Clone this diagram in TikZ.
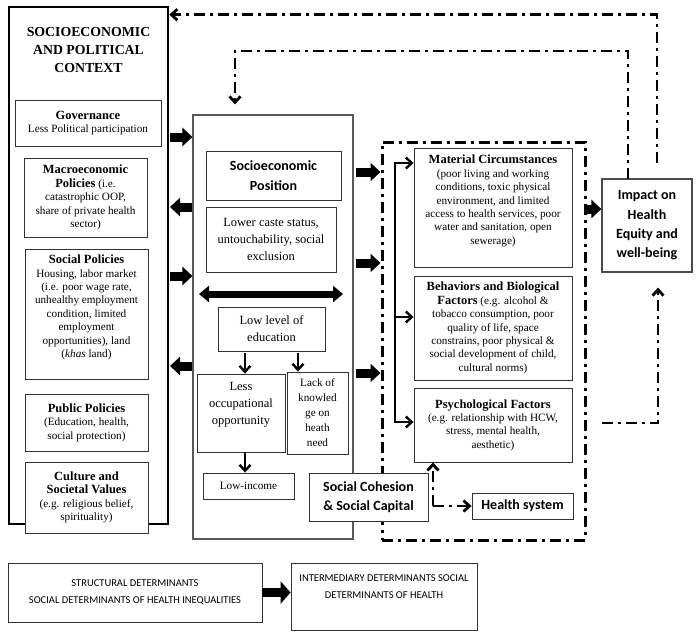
\documentclass[tikz,border=0pt]{standalone}
\usepackage{fontspec}
\setmainfont{Liberation Serif}
\newfontfamily\calfont{Carlito}
\usetikzlibrary{arrows.meta}

\newcommand{\hd}{\fontsize{12.5}{13.4}\selectfont\bfseries}
\newcommand{\bodyfont}{\fontsize{11.2}{13.4}\selectfont}
\newcommand{\bigfont}{\fontsize{12.5}{16.8}\selectfont}
% empty last line, lifts the text a little in tall boxes
\newcommand{\lift}{\\[2pt]\mbox{}}

\tikzset{
  box/.style={draw=black!80, line width=0.9pt, align=center, inner sep=2pt, font=\bodyfont},
  sansbox/.style={box, font=\calfont\bfseries\fontsize{14}{19.3}\selectfont},
  capbox/.style={box, font=\calfont\fontsize{10.5}{17}\selectfont},
  ctxbox/.style={draw, line width=2.6pt, minimum width=159pt, minimum height=517pt},
  sepbox/.style={draw=black!65, line width=1.1pt, minimum width=160pt, minimum height=424pt},
  ddbox/.style={draw, line width=3pt, dash pattern=on 11pt off 5pt on 3pt off 5pt, minimum width=203pt, minimum height=398pt},
  fat/.style={line width=9pt, -{Triangle[length=10pt,width=18pt]}},
  dbl/.style={line width=7pt, {Triangle[length=10pt,width=16pt]}-{Triangle[length=10pt,width=16pt]}},
  dn/.style={line width=2.4pt, -{Straight Barb[length=6pt,width=11pt]}},
  trunk/.style={line width=2.4pt, line join=miter},
  fb/.style={line width=2.8pt, dash pattern=on 11pt off 5pt on 3pt off 5pt, -{Straight Barb[length=6pt,width=11pt]}}
}

\begin{document}
\begin{tikzpicture}[x=1pt, y=-1pt]
\useasboundingbox (0,0) rectangle (698,634);

% structural side
\node[ctxbox] (ctx) at (88.5,265.5) {};
\node[font=\fontsize{13.8}{18}\selectfont\bfseries, align=center] (title) at (88.5,50) {SOCIOECONOMIC\\AND POLITICAL\\CONTEXT};
\node[box, minimum width=146pt, minimum height=46pt] (gov) at (88,123) {{\hd Governance}\\Less Political participation};
\node[box, minimum width=123pt, minimum height=79pt] (macro) at (85.5,197.5) {{\hd Macroeconomic}\\{\hd Policies} (i.e.\\catastrophic OOP,\\share of private health\\sector)};
\node[box, minimum width=123pt, minimum height=130pt] (socpol) at (86.5,314) {{\hd Social Policies}\\Housing, labor market\\(i.e. poor wage rate,\\unhealthy employment\\condition, limited\\employment\\opportunities), land\\(\textit{khas} land)\lift};
\node[box, minimum width=123pt, minimum height=57pt] (pubpol) at (86.5,422.5) {{\hd Public Policies}\\(Education, health,\\social protection)};
\node[box, fill=white, minimum width=123pt, minimum height=71pt] (cult) at (86.5,497.5) {{\hd Culture and}\\{\hd Societal Values}\\(e.g. religious belief,\\spirituality)};

% socioeconomic position
\node[sepbox] (sep) at (273,327) {};
\node[sansbox, minimum width=135pt, minimum height=49pt] (sepos) at (273.5,175.5) {Socioeconomic\\Position};
\node[box, font=\bigfont, minimum width=130pt, minimum height=65pt] (caste) at (271,239.5) {Lower caste status,\\untouchability, social\\exclusion};
\node[box, font=\bigfont, minimum width=107pt, minimum height=44pt] (edu) at (271.5,329) {Low level of\\education};
\node[box, font=\bigfont, minimum width=88pt, minimum height=78pt] (occ) at (241,413) {Less\\occupational\\opportunity\lift};
\node[box, font=\fontsize{11.2}{15}\selectfont, minimum width=61pt, minimum height=82pt] (know) at (317.5,413) {Lack of\\knowled\\ge on\\heath\\need};
\node[box, minimum width=91pt, minimum height=26pt] (inc) at (248.5,486) {Low-income};

% intermediary side
\node[ddbox] (inter) at (483.5,341) {};
\node[sansbox, fill=white, minimum width=119pt, minimum height=48pt] (coh) at (368.5,497) {Social Cohesion\\\& Social Capital};
\node[box, minimum width=158pt, minimum height=119pt] (mat) at (493,207.5) {{\hd Material Circumstances}\\(poor living and working\\conditions, toxic physical\\environment, and limited\\access to health services, poor\\water and sanitation, open\\sewerage)\lift};
\node[box, minimum width=158pt, minimum height=104pt] (beh) at (493,328) {{\hd Behaviors and Biological}\\{\hd Factors} (e.g. alcohol \&\\tobacco consumption, poor\\quality of life, space\\constrains, poor physical \&\\social development of child,\\cultural norms)};
\node[box, minimum width=158pt, minimum height=74pt] (psy) at (493,425) {{\hd Psychological Factors}\\(e.g. relationship with HCW,\\stress, mental health,\\aesthetic)};
\node[sansbox, minimum width=101pt, minimum height=26pt] (hs) at (522.5,506) {Health system};
\node[sansbox, draw=black!70, line width=1.2pt, minimum width=90pt, minimum height=93pt] (imp) at (647,225.5) {Impact on\\Health\\Equity and\\well-being};

% legend
\node[capbox, minimum width=254pt, minimum height=59pt] (struct) at (135,592.5) {STRUCTURAL DETERMINANTS\\SOCIAL DETERMINANTS OF HEALTH INEQUALITIES};
\node[capbox, minimum width=186pt, minimum height=67pt] (interm) at (384,596.5) {INTERMEDIARY DETERMINANTS SOCIAL\\DETERMINANTS OF HEALTH\lift};

% block arrows
\coordinate (a1) at (170,137);
\coordinate (a2) at (170,207);
\coordinate (a3) at (170,276);
\coordinate (a4) at (170,366);
\draw[fat] (a1) -- (a1 -| sep.west);
\draw[fat] (a2 -| sep.west) -- (a2);
\draw[fat] (a3) -- (a3 -| sep.west);
\draw[fat] (a4 -| sep.west) -- (a4);
\coordinate (b1) at (356,172);
\coordinate (b2) at (356,263);
\coordinate (b3) at (356,373);
\draw[fat] (b1) -- (b1 -| inter.west);
\draw[fat] (b2) -- (b2 -| inter.west);
\draw[fat] (b3) -- (b3 -| inter.west);
\coordinate (c1) at (586,209);
\draw[fat] (c1) -- (c1 -| imp.west);
\draw[fat, -{Triangle[length=10pt,width=22pt]}] (struct.east) -- (struct.east -| interm.west);
\coordinate (d1) at (199,294);
\coordinate (d2) at (343,294);
\draw[dbl] (d1) -- (d2);

% education arrows
\coordinate (e1) at (245,353);
\coordinate (e2) at (298,353);
\draw[dn] (e1) -- (e1 |- occ.north);
\draw[dn] (e2) -- (e2 |- know.north);
\draw[dn] (e1 |- occ.south) -- (e1 |- inc.north);

% trunk to intermediary boxes
\coordinate (t1) at (395,163);
\coordinate (t2) at (395,317);
\coordinate (t3) at (395,422);
\draw[trunk, {Straight Barb[length=6pt,width=11pt]}-{Straight Barb[length=6pt,width=11pt]}] (t1 -| mat.west) -- (t1) -- (t3) -- (t3 -| psy.west);
\draw[dn] (t2) -- (t2 -| beh.west);

% social cohesion links
\coordinate (cj) at (433,506);
\draw[fb] (cj) -- (cj |- psy.south);
\draw[fb] (cj) -- (hs.west);

% feedback loops
\coordinate (f1) at (657,163);
\coordinate (f2) at (628,179);
\coordinate (f3) at (602,423);
\draw[fb] (f1) |- ([yshift=-9pt]ctx.north east);
\draw[fb, shorten >=10pt] (f2) -- (628,51) -| ([xshift=-38pt]sep.north);
\draw[fb, shorten >=15pt] (f3) -| ([xshift=11pt]imp.south);
\end{tikzpicture}
\end{document}
